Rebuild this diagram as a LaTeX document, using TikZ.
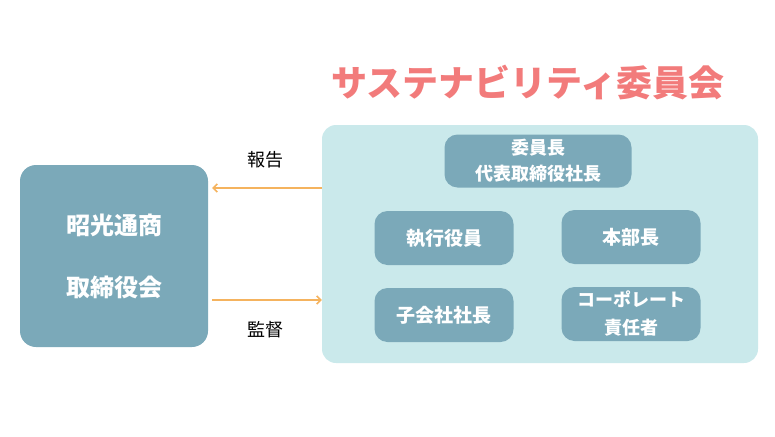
\documentclass[tikz,border=0pt]{standalone}
\usepackage{fontspec}
\setmainfont{Noto Sans CJK JP}
\usetikzlibrary{arrows.meta}
\definecolor{boxblue}{HTML}{7BA9B9}
\definecolor{paleblue}{HTML}{CAE9EB}
\definecolor{titlered}{HTML}{F27B7B}
\definecolor{arrorange}{HTML}{F5B35E}
\tikzset{
  member/.style={fill=boxblue, rounded corners=13pt, minimum width=139pt, minimum height=54pt,
    text=white, font=\fontsize{19}{23}\selectfont\bfseries, align=center, inner sep=0pt},
  arr/.style={arrorange, line width=1.6pt, -{Straight Barb[length=4pt,width=8pt]}},
  lbl/.style={font=\fontsize{18}{21}\selectfont}
}
\begin{document}
\begin{tikzpicture}[x=1pt, y=-1pt]
  \useasboundingbox (0,0) rectangle (775,436);
  % board
  \node[fill=boxblue, rounded corners=16pt, minimum width=188pt, minimum height=182pt, inner sep=0pt,
    text=white, font=\fontsize{24}{62}\selectfont\bfseries, align=center] (board) at (114,256) {昭光通商\\取締役会};
  % committee
  \node[fill=paleblue, rounded corners=14pt, minimum width=436pt, minimum height=238pt, inner sep=0pt] (comm) at (540,244) {};
  \node[text=titlered, font=\fontsize{36}{42}\selectfont\bfseries] (title) at (528,83) {サステナビリティ委員会};
  \node[member, minimum width=187pt, minimum height=53pt, font=\fontsize{18}{26}\selectfont\bfseries] (chair) at (538,161) {委員長\\代表取締役社長};
  \node[member] (exec) at (444,238) {執行役員};
  \node[member] (head) at (631,237) {本部長};
  \node[member] (sub) at (444,315) {子会社社長};
  \node[member, font=\fontsize{18}{28}\selectfont\bfseries] (corp) at (631,314) {コーポレート\\責任者};
  % report / supervise
  \draw[arr] (comm.west |- 0,188) -- ([xshift=4pt]board.east |- 0,188);
  \draw[arr] ([xshift=4pt]board.east |- 0,300) -- (comm.west |- 0,300);
  \node[lbl] (report) at (265,160) {報告};
  \node[lbl] (watch) at (265,330) {監督};
\end{tikzpicture}
\end{document}
